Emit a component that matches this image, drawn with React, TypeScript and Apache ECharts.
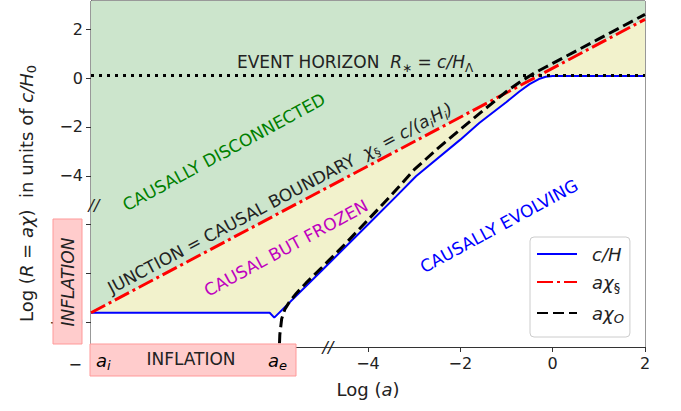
import React, { useEffect, useRef } from 'react';
import * as echarts from 'echarts';

const F = 'DejaVu Sans';

// axis ticks / labels
const xTickValues = [-10, -8, -6, -4, -2, 0, 2];
const xLabelValues = [-4, -2, 0, 2];
const yTickValues = [-10, -8, -6, -4, -2, 0, 2];
const yLabelValues = [-10, -4, -2, 0, 2];

// c/H (blue)
const blueLogA = [-10, -6.13, -6.03, -5, -4, -3.4, -2.96, -2, -1.59, -1, -0.72, -0.5, -0.3, -0.15, 0, 2];
const blueLogR = [-9.6, -9.6, -9.8, -7.87, -5.99, -4.86, -4.02, -2.52, -1.84, -0.98, -0.55, -0.25, -0.04, 0.05, 0.08, 0.08];

// a chi_§ (red dash-dot)
const redLogA = [-10, 2];
const redLogR = [-9.6, 2.4];

// a chi_O (black dashed)
const blackLogA = [-5.93, -5.91, -5.87, -5.8, -5.7, -5.55, -5.35, -5, -4.5, -4, -3.5, -3, -2.5, -2, -1.5, -1, -0.7, -0.4, -0.15, 0, 1, 2];
const blackLogR = [-11.5, -10.5, -9.85, -9.45, -9.15, -8.8, -8.4, -7.75, -6.8, -5.8, -4.8, -3.75, -2.9, -2.1, -1.32, -0.55, -0.15, 0.2, 0.45, 0.6, 1.6, 2.6];

// event horizon (dotted)
const horizonLogA = [-10, 2];
const horizonLogR = [0.1, 0.1];

const seriesNames = ['c/H', 'aχ§', 'aχO'];

const pairs = (xs: number[], ys: number[]) => xs.map((x, i) => [x, ys[i]]);
const fmt = (v: number) => (v < 0 ? '\u2212' + Math.abs(v) : String(v));

const richSet = (size: number, color: string) => ({
  n: { fontFamily: F, fontSize: size, color, lineHeight: size + 6 },
  i: { fontFamily: F, fontSize: size, color, fontStyle: 'italic', lineHeight: size + 6 },
  s: { fontFamily: F, fontSize: Math.round(size * 0.7), color, lineHeight: size + 6, verticalAlign: 'bottom' },
  si: { fontFamily: F, fontSize: Math.round(size * 0.7), color, fontStyle: 'italic', lineHeight: size + 6, verticalAlign: 'bottom' },
});

const legendLabel: Record<string, string> = {
  'c/H': '{i|c/H}',
  'aχ§': '{i|aχ}{s|§}',
  'aχO': '{i|aχ}{si|O}',
};

const deg = (d: number) => (d * Math.PI) / 180;

export default function App() {
  const ref = useRef<HTMLDivElement>(null);
  useEffect(() => {
    if (!ref.current) return;
    const chart = echarts.init(ref.current, null, { renderer: 'svg' });
    const annot = (x: number, y: number, text: string, color: string, rot: number, align = 'center') => ({
      type: 'text',
      x,
      y,
      rotation: deg(rot),
      z: 100,
      style: {
        text,
        fontFamily: F,
        fontSize: 17,
        fill: color,
        align,
        verticalAlign: 'middle',
        rich: richSet(17, color),
      },
    });
    chart.setOption({
      animation: false,
      backgroundColor: '#fff',
      grid: { left: 91, right: 36, top: 1, bottom: 64, show: true, borderColor: '#333', borderWidth: 1, backgroundColor: '#fff' },
      xAxis: {
        type: 'value',
        min: -10,
        max: 2,
        axisLine: { onZero: false, lineStyle: { color: '#333' } },
        axisTick: { customValues: xTickValues, length: 5, lineStyle: { color: '#333' } },
        axisLabel: { customValues: xLabelValues, formatter: fmt, fontSize: 16, color: '#222', fontFamily: F, margin: 8 },
        splitLine: { show: false },
        name: '{n|Log (}{i|a}{n|)}',
        nameLocation: 'middle',
        nameGap: 30,
        nameTextStyle: { rich: richSet(18, '#222') },
      },
      yAxis: {
        type: 'value',
        min: -11,
        max: 3.15,
        axisLine: { onZero: false, lineStyle: { color: '#333' } },
        axisTick: { customValues: yTickValues, length: 5, lineStyle: { color: '#333' } },
        axisLabel: { customValues: yLabelValues, formatter: fmt, fontSize: 16, color: '#222', fontFamily: F, margin: 8 },
        splitLine: { show: false },
        name: '{n|Log (}{i|R}{n| = }{i|aχ}{n|)  in units of }{i|c/H}{s|0}',
        nameLocation: 'middle',
        nameRotate: 90,
        nameGap: 52,
        nameTextStyle: { rich: richSet(18, '#222'), padding: [0, 39, 0, 0] },
      },
      legend: {
        data: seriesNames,
        orient: 'vertical',
        left: 530,
        top: 237,
        itemWidth: 40,
        itemHeight: 14,
        itemGap: 10,
        padding: [8, 6, 12, 6],
        backgroundColor: 'rgba(255,255,255,0.85)',
        borderColor: '#ccc',
        borderWidth: 1,
        borderRadius: 4,
        itemStyle: { opacity: 0 },
        formatter: (name: string) => legendLabel[name] || name,
        textStyle: { fontSize: 18, fontFamily: F, color: '#222', padding: [0, 0, 0, 10], rich: richSet(18, '#222') },
      },
      series: [
        {
          type: 'line', data: pairs(redLogA, redLogR), symbol: 'none', silent: true, z: 1,
          lineStyle: { width: 0 }, areaStyle: { color: 'rgb(204,229,204)', origin: 'end', opacity: 1 },
        },
        {
          type: 'line', data: pairs(redLogA, redLogR), symbol: 'none', silent: true, z: 2,
          lineStyle: { width: 0 }, areaStyle: { color: 'rgb(242,242,204)', origin: 'start', opacity: 1 },
        },
        {
          type: 'line', data: pairs(blueLogA, blueLogR), symbol: 'none', silent: true, z: 3,
          lineStyle: { width: 0 }, areaStyle: { color: '#ffffff', origin: 'start', opacity: 1 },
        },
        {
          name: 'c/H', type: 'line', data: pairs(blueLogA, blueLogR), symbol: 'none', z: 4,
          itemStyle: { color: '#0000ff' }, lineStyle: { color: '#0000ff', width: 2 },
        },
        {
          name: 'aχ§', type: 'line', data: pairs(redLogA, redLogR), symbol: 'none', z: 5,
          itemStyle: { color: '#ff0000' }, lineStyle: { color: '#ff0000', width: 3, type: [16, 4, 3, 4] },
        },
        {
          name: 'aχO', type: 'line', data: pairs(blackLogA, blackLogR), symbol: 'none', z: 6,
          itemStyle: { color: '#000' }, lineStyle: { color: '#000', width: 3, type: [11, 5] },
        },
        {
          type: 'line', data: pairs(horizonLogA, horizonLogR), symbol: 'none', z: 7, silent: true,
          lineStyle: { color: '#000', width: 3, type: [3, 5] },
        },
      ],
      graphic: [
        annot(237, 62, 'EVENT HORIZON  {i|R}{s|∗}{n| = }{i|c/H}{s|Λ}', '#222', 0, 'left'),
        annot(224, 152, 'CAUSALLY DISCONNECTED', '#008000', 28.5),
        annot(280, 198, 'JUNCTION = CAUSAL BOUNDARY  {i|χ}{s|§}{n| = }{i|c/(a}{si|i}{i|H}{si|i}{i|)}', '#222', 28),
        annot(286, 248, 'CAUSAL BUT FROZEN', '#bf00bf', 28.5),
        annot(499, 226, 'CAUSALLY EVOLVING', '#0000ff', 28.5),
        {
          type: 'text', z: 90, x: 82, y: 364,
          style: { text: '\u2212', fontFamily: F, fontSize: 16, fill: '#222', align: 'right', verticalAlign: 'middle' },
        },
        {
          type: 'rect', z: 100,
          shape: { x: 53, y: 219, width: 29, height: 125 },
          style: { fill: '#ffcccc', stroke: '#ff9999', lineWidth: 1 },
        },
        {
          type: 'text', z: 101, x: 68, y: 282, rotation: deg(90),
          style: { text: 'INFLATION', fontFamily: F, fontSize: 17, fontStyle: 'italic', fill: '#222', align: 'center', verticalAlign: 'middle' },
        },
        {
          type: 'rect', z: 100,
          shape: { x: 90, y: 344, width: 206, height: 32 },
          style: { fill: '#ffcccc', stroke: '#ff9999', lineWidth: 1 },
        },
        {
          type: 'text', z: 101, x: 96, y: 360,
          style: { text: '{i|a}{si|i}', rich: richSet(18, '#222'), align: 'left', verticalAlign: 'middle' },
        },
        {
          type: 'text', z: 101, x: 191, y: 359,
          style: { text: 'INFLATION', fontFamily: F, fontSize: 17, fill: '#222', align: 'center', verticalAlign: 'middle' },
        },
        {
          type: 'text', z: 101, x: 268, y: 360,
          style: { text: '{i|a}{si|e}', rich: richSet(18, '#222'), align: 'left', verticalAlign: 'middle' },
        },
        {
          type: 'text', z: 101, x: 94, y: 205,
          style: { text: '//', fontFamily: F, fontSize: 16, fontStyle: 'italic', fill: '#222', align: 'center', verticalAlign: 'middle' },
        },
        {
          type: 'text', z: 101, x: 328, y: 347,
          style: { text: '//', fontFamily: F, fontSize: 16, fontStyle: 'italic', fill: '#222', align: 'center', verticalAlign: 'middle' },
        },
      ],
    });
    return () => chart.dispose();
  }, []);
  return <div ref={ref} style={{ position: 'fixed', left: 0, top: 0, width: 681, height: 411 }} />;
}
